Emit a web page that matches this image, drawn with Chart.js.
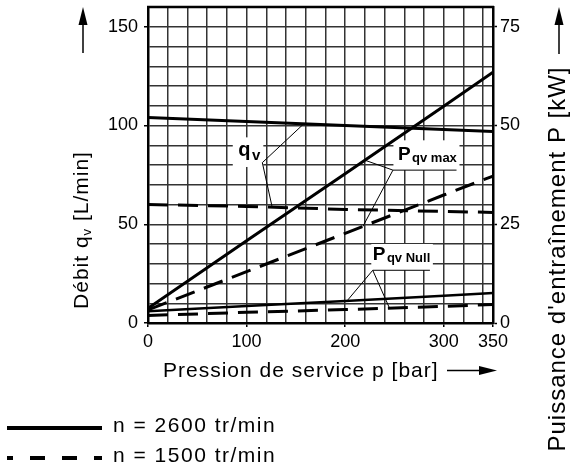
<!DOCTYPE html>
<html>
<head>
<meta charset="utf-8">
<script src="https://cdn.jsdelivr.net/npm/chart.js@4.4.1/dist/chart.umd.min.js"></script>
<style>
  body { margin: 0; background: #fff; }
  #wrap { width: 570px; height: 468px; }
</style>
</head>
<body>
<div id="wrap"><canvas id="chart1"></canvas></div>
<script>
// values (pressure in bar)
const pressure  = [0, 100, 200, 300, 350];
const qv2600    = [104, 102, 100, 98, 97];      // L/min
const qv1500    = [60, 59, 57.5, 56.5, 56];     // L/min
const pMax2600  = [3.7, 20.8, 37.8, 54.9, 63.5]; // kW
const pMax1500  = [3.3, 13, 22.7, 32.4, 37.2];   // kW
const pNull2600 = [3, 4.3, 5.6, 6.9, 7.6];       // kW
const pNull1500 = [1.9, 2.7, 3.4, 4.2, 4.7];     // kW

const xLabels  = [0, 100, 200, 300, 350];
const qvLabels = [0, 50, 100, 150];
const pLabels  = [0, 25, 50, 75];

const fontFam = '"Liberation Sans", Arial, Helvetica, sans-serif';
const clear = 'rgba(0,0,0,0)';
const gridCol = '#333';

function pts(ys) {
  return pressure.map((p, i) => ({ x: p, y: ys[i] }));
}

function line(label, ys, axis, dashed, w) {
  return {
    label: label,
    data: pts(ys),
    yAxisID: axis,
    borderColor: '#000',
    borderWidth: w,
    borderDash: dashed ? [20, 10] : [],
    pointRadius: 0,
    tension: 0,
    fill: false
  };
}

function steps(max, step, extra) {
  const t = [];
  for (let v = 0; v <= max; v += step) t.push({ value: v });
  if (extra != null) t.push({ value: extra });
  return t;
}

function tickFont(c, list) {
  const shown = c.tick && list.includes(c.tick.value);
  return { family: fontFam, size: 18, lineHeight: shown ? 1.2 : 0 };
}

// value on a curve at a given pressure (for the leader lines)
function at(ys, p) {
  for (let i = 1; i < pressure.length; i++) {
    if (p <= pressure[i]) {
      const t = (p - pressure[i - 1]) / (pressure[i] - pressure[i - 1]);
      return ys[i - 1] + t * (ys[i] - ys[i - 1]);
    }
  }
  return ys[ys.length - 1];
}

// callouts, in chart units (bar, L/min)
const notes = [
  { main: 'q', sub: 'v', size: 20, subSize: 15, drop: 4, pos: [91.5, 84.7],
    box: [86, 117, 79, 94], joint: [116, 81.2], under: null,
    ends: [[qv2600, 'y', 158], [qv1500, 'y', 126]] },
  { main: 'P', sub: 'qv max', size: 19, subSize: 13, drop: 2, pos: [253.5, 82.4],
    box: [249, 316, 77.4, 92.5], joint: [248.5, 77.4], under: [248.5, 313, 77.4],
    ends: [[pMax2600, 'y2', 220], [pMax1500, 'y2', 218]] },
  { main: 'P', sub: 'qv Null', size: 19, subSize: 13, drop: 2, pos: [228, 31.8],
    box: [226.5, 289, 26.7, 40], joint: [228, 26.7], under: [228, 286, 26.7],
    ends: [[pNull2600, 'y2', 202], [pNull1500, 'y2', 245]] }
];

function arrowUp(ctx, x, tip, bottom) {
  ctx.lineWidth = 1.5;
  ctx.beginPath();
  ctx.moveTo(x, bottom);
  ctx.lineTo(x, tip + 10);
  ctx.stroke();
  ctx.beginPath();
  ctx.moveTo(x, tip);
  ctx.lineTo(x - 4.5, tip + 18);
  ctx.lineTo(x + 4.5, tip + 18);
  ctx.closePath();
  ctx.fill();
}

const deco = {
  id: 'deco',
  beforeDatasetsDraw(chart) {
    const { ctx, scales } = chart;
    ctx.save();
    ctx.fillStyle = '#fff';
    notes.forEach(n => {
      const x0 = scales.x.getPixelForValue(n.box[0]);
      const x1 = scales.x.getPixelForValue(n.box[1]);
      const y0 = scales.y.getPixelForValue(n.box[3]);
      const y1 = scales.y.getPixelForValue(n.box[2]);
      ctx.fillRect(x0, y0, x1 - x0, y1 - y0);
    });
    ctx.restore();
  },
  afterDatasetsDraw(chart) {
    const { ctx, scales, chartArea } = chart;
    ctx.save();
    // top edge of the frame
    ctx.strokeStyle = '#000';
    ctx.lineWidth = 2.5;
    ctx.beginPath();
    ctx.moveTo(chartArea.left - 1, chartArea.top);
    ctx.lineTo(chartArea.right + 1, chartArea.top);
    ctx.stroke();

    // callouts
    ctx.lineWidth = 1;
    ctx.fillStyle = '#000';
    ctx.textBaseline = 'alphabetic';
    ctx.textAlign = 'left';
    notes.forEach(n => {
      const jx = scales.x.getPixelForValue(n.joint[0]);
      const jy = scales.y.getPixelForValue(n.joint[1]);
      ctx.beginPath();
      n.ends.forEach(e => {
        const ex = scales.x.getPixelForValue(e[2]);
        const ey = scales[e[1]].getPixelForValue(at(e[0], e[2]));
        ctx.moveTo(jx, jy);
        ctx.lineTo(ex, ey);
      });
      if (n.under) {
        const uy = scales.y.getPixelForValue(n.under[2]);
        ctx.moveTo(scales.x.getPixelForValue(n.under[0]), uy);
        ctx.lineTo(scales.x.getPixelForValue(n.under[1]), uy);
      }
      ctx.stroke();

      const tx = scales.x.getPixelForValue(n.pos[0]);
      const ty = scales.y.getPixelForValue(n.pos[1]);
      ctx.font = 'bold ' + n.size + 'px ' + fontFam;
      ctx.fillText(n.main, tx, ty);
      const w = ctx.measureText(n.main).width;
      ctx.font = 'bold ' + n.subSize + 'px ' + fontFam;
      ctx.fillText(n.sub, tx + w + 1.5, ty + n.drop);
    });
    ctx.restore();
  },
  afterDraw(chart) {
    const ctx = chart.ctx;
    ctx.save();
    ctx.fillStyle = '#000';
    ctx.strokeStyle = '#000';
    ctx.textBaseline = 'alphabetic';
    ctx.textAlign = 'left';

    // x title and arrow
    ctx.letterSpacing = '1px';
    ctx.font = '21px ' + fontFam;
    ctx.fillText('Pression de service p [bar]', 163, 377);
    ctx.lineWidth = 1.5;
    ctx.beginPath();
    ctx.moveTo(447, 370.5);
    ctx.lineTo(485, 370.5);
    ctx.stroke();
    ctx.beginPath();
    ctx.moveTo(497, 370.5);
    ctx.lineTo(479, 366);
    ctx.lineTo(479, 375);
    ctx.closePath();
    ctx.fill();

    // left title (rotated) with subscript
    ctx.save();
    ctx.translate(88, 230);
    ctx.rotate(-Math.PI / 2);
    const a = 'Débit q', b = 'v', c = ' [L/min]';
    ctx.font = '21px ' + fontFam;
    const wa = ctx.measureText(a).width, wc = ctx.measureText(c).width;
    ctx.font = '13px ' + fontFam;
    const wb = ctx.measureText(b).width;
    let x = -(wa + wb + wc) / 2;
    ctx.font = '21px ' + fontFam;
    ctx.fillText(a, x, 0);
    ctx.font = '13px ' + fontFam;
    ctx.fillText(b, x + wa, 3);
    ctx.font = '21px ' + fontFam;
    ctx.fillText(c, x + wa + wb, 0);
    ctx.restore();
    arrowUp(ctx, 83, 7, 53);

    // right title (rotated)
    ctx.save();
    ctx.translate(565, 259);
    ctx.rotate(-Math.PI / 2);
    ctx.font = '24px ' + fontFam;
    ctx.textAlign = 'center';
    ctx.fillText("Puissance d'entraînement P [kW]", 0, 0);
    ctx.restore();
    arrowUp(ctx, 559, 7, 54);

    // legend
    ctx.lineWidth = 4;
    ctx.beginPath();
    ctx.moveTo(7, 428);
    ctx.lineTo(102, 428);
    ctx.stroke();
    ctx.setLineDash([15, 17]);
    ctx.lineDashOffset = 9;
    ctx.beginPath();
    ctx.moveTo(7, 458);
    ctx.lineTo(102, 458);
    ctx.stroke();
    ctx.setLineDash([]);
    ctx.letterSpacing = '1.5px';
    ctx.font = '21px ' + fontFam;
    ctx.fillText('n = 2600 tr/min', 113, 432);
    ctx.fillText('n = 1500 tr/min', 113, 462);
    ctx.restore();
  }
};

const ctx1 = document.getElementById('chart1');
new Chart(ctx1, {
  type: 'line',
  data: {
    datasets: [
      line('qv 2600', qv2600, 'y', false, 3),
      line('qv 1500', qv1500, 'y', true, 3),
      line('Pqv max 2600', pMax2600, 'y2', false, 3),
      line('Pqv max 1500', pMax1500, 'y2', true, 3),
      line('Pqv Null 2600', pNull2600, 'y2', false, 2.5),
      line('Pqv Null 1500', pNull1500, 'y2', true, 3)
    ]
  },
  options: {
    responsive: true,
    maintainAspectRatio: false,
    animation: false,
    layout: { padding: { top: 7, left: 0, right: 0, bottom: 0 } },
    plugins: {
      legend: { display: false },
      tooltip: { enabled: false }
    },
    scales: {
      x: {
        type: 'linear',
        min: 0,
        max: 350,
        afterBuildTicks: s => { s.ticks = steps(340, 20, 350); },
        afterFit: s => { s.height = 145; },
        border: { display: true, color: '#000', width: 2.5 },
        grid: {
          color: c => (c.tick && (c.tick.value === 0 || c.tick.value === 350)) ? clear : gridCol,
          lineWidth: 1.5,
          tickLength: 4,
          tickWidth: 1.5,
          tickColor: c => (c.tick && xLabels.includes(c.tick.value)) ? '#000' : clear
        },
        ticks: {
          autoSkip: false,
          maxRotation: 0,
          padding: 4,
          color: '#000',
          font: c => tickFont(c, xLabels),
          callback: v => xLabels.includes(v) ? String(v) : ''
        }
      },
      y: {
        position: 'left',
        min: 0,
        max: 160,
        afterBuildTicks: s => { s.ticks = steps(160, 10); },
        afterFit: s => { s.width = 148; },
        border: { display: true, color: '#000', width: 2.5 },
        grid: {
          color: c => (c.tick && (c.tick.value === 0 || c.tick.value === 160)) ? clear : gridCol,
          lineWidth: 1.5,
          tickLength: 4,
          tickWidth: 1.5,
          tickColor: c => (c.tick && qvLabels.includes(c.tick.value)) ? '#000' : clear
        },
        ticks: {
          autoSkip: false,
          padding: 6,
          color: '#000',
          font: c => tickFont(c, qvLabels),
          callback: v => qvLabels.includes(v) ? String(v) : ''
        }
      },
      y2: {
        position: 'right',
        min: 0,
        max: 80,
        afterBuildTicks: s => { s.ticks = steps(80, 5); },
        afterFit: s => { s.width = 77; },
        border: { display: true, color: '#000', width: 2.5 },
        grid: {
          drawOnChartArea: false,
          tickLength: 4,
          tickWidth: 1.5,
          tickColor: c => (c.tick && pLabels.includes(c.tick.value)) ? '#000' : clear
        },
        ticks: {
          autoSkip: false,
          padding: 3,
          color: '#000',
          font: c => tickFont(c, pLabels),
          callback: v => pLabels.includes(v) ? String(v) : ''
        }
      }
    }
  },
  plugins: [deco]
});
</script>
</body>
</html>
